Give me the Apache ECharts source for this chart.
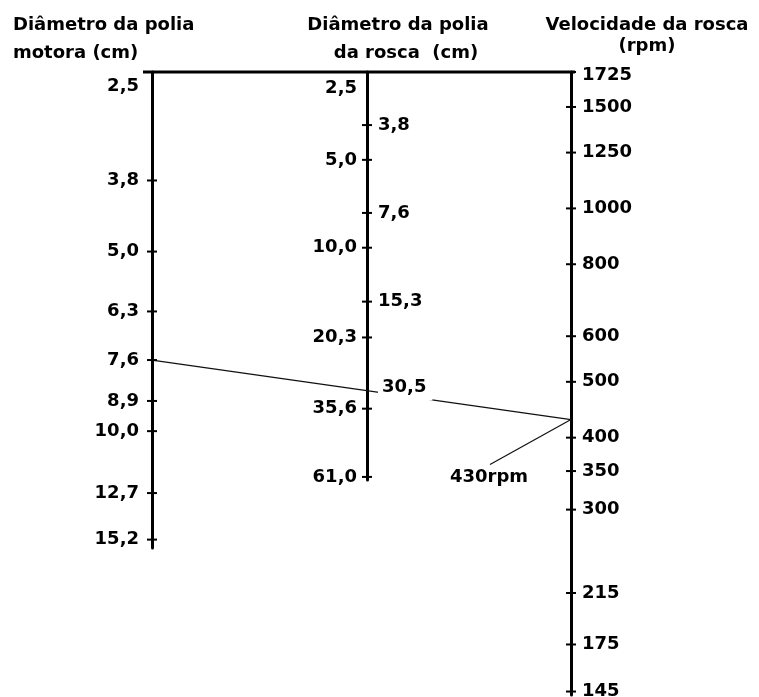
<!DOCTYPE html>
<html>
<head>
<meta charset="utf-8">
<script src="https://cdn.jsdelivr.net/npm/echarts@6/dist/echarts.min.js"></script>
<style>
html,body{margin:0;padding:0;background:#fff;}
#c{width:759px;height:697px;}
</style>
</head>
<body>
<div id="c"></div>
<script>
// ---------------- data ----------------
const titleMotor = ['Diâmetro da polia', 'motora (cm)'];
const titleScrew = ['Diâmetro da polia', 'da rosca  (cm)'];
const titleSpeed = ['Velocidade da rosca', '(rpm)'];

const motorTicks  = [2.5, 3.8, 5.0, 6.3, 7.6, 8.9, 10.0, 12.7, 15.2];
const motorLabels = ['2,5', '3,8', '5,0', '6,3', '7,6', '8,9', '10,0', '12,7', '15,2'];

const screwTicks  = [2.5, 3.8, 5.0, 7.6, 10.0, 15.3, 20.3, 30.5, 35.6, 61.0];
const screwLabels = ['2,5', '3,8', '5,0', '7,6', '10,0', '15,3', '20,3', '30,5', '35,6', '61,0'];

const speedTicks  = [1725, 1500, 1250, 1000, 800, 600, 500, 400, 350, 300, 215, 175, 145];
const speedLabels = ['1725', '1500', '1250', '1000', '800', '600', '500', '400', '350', '300', '215', '175', '145'];

const exampleMotor = 7.6;
const exampleScrew = 30.5;
const exampleSpeed = 430;
const exampleLabel = '430rpm';

// ---------------- layout / style ----------------
const FONT = {fontFamily: 'DejaVu Sans', fontWeight: 'bold', fontSize: 18, color: '#000', opacity: 1};
const screwRightSide = new Set([1, 3, 5, 7]);

function tickSeries(g, ticks, labels, opts) {
  return {
    type: 'scatter', xAxisIndex: g, yAxisIndex: g, z: 5, silent: true,
    symbol: 'rect', symbolSize: [10, 2],
    itemStyle: {color: '#000', opacity: 1},
    emphasis: {disabled: true},
    data: ticks.map((v, i) => {
      const lab = Object.assign({show: true, formatter: labels[i],
        position: opts.side(i), distance: opts.dist(i), offset: opts.offset(i)}, FONT);
      if (opts.bg && opts.bg(i)) {
        lab.backgroundColor = '#fff';
        lab.padding = [3, 6, 6, 4];
      }
      const item = {value: [0, v], label: lab};
      if (opts.hide && opts.hide(i)) item.itemStyle = {color: 'rgba(0,0,0,0)'};
      return item;
    })
  };
}

const axisLine = {show: true, lineStyle: {color: '#000', width: 3}};
function yAx(g, min, max, inverse) {
  return {type: 'log', logBase: 10, gridIndex: g, min: min, max: max, inverse: inverse,
    axisLine: axisLine, axisTick: {show: false}, axisLabel: {show: false}, splitLine: {show: false}};
}
function xAx(g) {
  return {type: 'value', gridIndex: g, min: 0, max: 1, show: false};
}

const chart = echarts.init(document.getElementById('c'));
chart.setOption({
  animation: false,
  backgroundColor: '#fff',
  grid: [
    {left: 152, top: 72, width: 1, height: 476},
    {left: 367, top: 72, width: 1, height: 408},
    {left: 571, top: 72, width: 1, height: 623}
  ],
  xAxis: [xAx(0), xAx(1), xAx(2)],
  yAxis: [yAx(0, 2.5, 15.7, true), yAx(1, 2.5, 62.5, true), yAx(2, 143, 1725, false)],
  series: [
    tickSeries(0, motorTicks, motorLabels, {
      side: () => 'left', dist: () => 8,
      offset: i => i === 0 ? [0, 14] : [0, 0]
    }),
    tickSeries(1, screwTicks, screwLabels, {
      side: i => screwRightSide.has(i) ? 'right' : 'left',
      dist: i => screwRightSide.has(i) ? 6 : 5,
      offset: i => i === 0 ? [0, 16] : (screwTicks[i] === exampleScrew ? [0, -2] : [0, 0]),
      bg: i => screwTicks[i] === exampleScrew,
      hide: i => screwTicks[i] === exampleScrew
    }),
    tickSeries(2, speedTicks, speedLabels, {
      side: () => 'right', dist: () => 6,
      offset: i => i === 0 ? [0, 3] : [0, 0]
    })
  ]
});

const pTopL = chart.convertToPixel({gridIndex: 0}, [0, motorTicks[0]]);
const pTopR = chart.convertToPixel({gridIndex: 2}, [0, speedTicks[0]]);
const pM = chart.convertToPixel({gridIndex: 0}, [0, exampleMotor]);
const pS = chart.convertToPixel({gridIndex: 2}, [0, exampleSpeed]);

function txt(text, x, y, align) {
  return {type: 'text', z: 6, style: {text: text, x: x, y: y,
    font: 'bold 18px "DejaVu Sans"', fill: '#000',
    textAlign: align, align: align, textVerticalAlign: 'middle', verticalAlign: 'middle'}};
}

chart.setOption({
  graphic: [
    {type: 'line', z: 3, shape: {x1: pTopL[0] - 9, y1: pTopL[1], x2: pTopR[0] + 4, y2: pTopR[1]},
      style: {stroke: '#000', lineWidth: 3}},
    {type: 'line', z: 1, shape: {x1: pM[0], y1: pM[1], x2: pS[0], y2: pS[1]},
      style: {stroke: '#111', lineWidth: 1.2}},
    {type: 'line', z: 1, shape: {x1: pS[0], y1: pS[1], x2: pS[0] - 81, y2: pS[1] + 45},
      style: {stroke: '#111', lineWidth: 1.2}},
    txt(exampleLabel, pS[0] - 82, pS[1] + 58, 'center'),
    txt(titleMotor[0], 13, 25.5, 'left'),
    txt(titleMotor[1], 13, 53, 'left'),
    txt(titleScrew[0], 398, 25.5, 'center'),
    txt(titleScrew[1], 406, 53, 'center'),
    txt(titleSpeed[0], 647, 25.5, 'center'),
    txt(titleSpeed[1], 647, 46.5, 'center')
  ]
});
</script>
</body>
</html>
